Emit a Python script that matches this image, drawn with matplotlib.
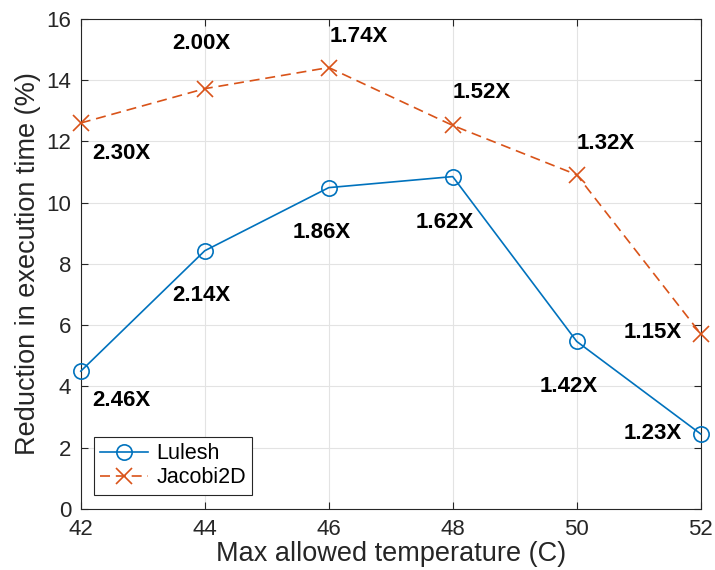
import numpy as np
import matplotlib.pyplot as plt

plt.rcParams['font.family'] = ['Liberation Sans', 'DejaVu Sans']

# data
temps = [42, 44, 46, 48, 50, 52]
lulesh = [4.5, 8.43, 10.49, 10.85, 5.47, 2.45]
jacobi = [12.6, 13.72, 14.41, 12.52, 10.91, 5.72]

lulesh_speedup = ['2.46X', '2.14X', '1.86X', '1.62X', '1.42X', '1.23X']
jacobi_speedup = ['2.30X', '2.00X', '1.74X', '1.52X', '1.32X', '1.15X']

# label anchor positions (data coords)
lulesh_lbl_x = [42.66, 43.95, 45.88, 47.87, 49.87, 51.23]
lulesh_lbl_y = [3.53, 6.96, 9.02, 9.35, 3.99, 2.45]
jacobi_lbl_x = [42.66, 43.95, 46.48, 48.47, 50.47, 51.23]
jacobi_lbl_y = [11.6, 15.2, 15.42, 13.6, 11.93, 5.75]

blue = '#0072BD'
orange = '#D95319'
dark = '#262626'

fig = plt.figure(figsize=(7.15, 5.7), dpi=100)
ax = fig.add_axes([0.113, 0.107, 0.867, 0.860])

ax.plot(temps, lulesh, '-o', color=blue, lw=1.2, ms=11, mfc='none',
        mew=1.2, label='Lulesh', clip_on=False, zorder=3)
ax.plot(temps, jacobi, '--x', color=orange, lw=1.2, ms=11, mew=1.2,
        dashes=(6, 3.5), label='Jacobi2D', clip_on=False, zorder=3)

for x, y, s in zip(lulesh_lbl_x, lulesh_lbl_y, lulesh_speedup):
    ax.text(x, y, s, ha='center', va='center', fontsize=16,
            fontweight='bold', color='black')
for x, y, s in zip(jacobi_lbl_x, jacobi_lbl_y, jacobi_speedup):
    ax.text(x, y, s, ha='center', va='center', fontsize=16,
            fontweight='bold', color='black')

ax.set_xlim(42, 52)
ax.set_ylim(0, 16)
ax.set_xticks(temps)
ax.set_yticks(np.arange(0, 17, 2))
ax.grid(True, color='#e3e3e3', lw=0.8)
ax.set_axisbelow(True)
ax.tick_params(direction='in', top=True, right=True, labelsize=16,
               colors=dark, length=5, width=0.8, pad=7)
for sp in ax.spines.values():
    sp.set_color(dark)
    sp.set_linewidth(0.8)

ax.set_xlabel('Max allowed temperature (C)', fontsize=19.5, color=dark, labelpad=1)
ax.set_ylabel('Reduction in execution time (%)', fontsize=19.5, color=dark, labelpad=4)

leg = ax.legend(loc='lower left', fontsize=15.5, fancybox=False,
                edgecolor=dark, framealpha=1, handlelength=2.2,
                borderpad=0.3, labelspacing=0.15, handletextpad=0.4,
                borderaxespad=0, bbox_to_anchor=(0.021, 0.029))
leg.get_frame().set_linewidth(0.8)

fig.savefig('out.png', dpi=100)
